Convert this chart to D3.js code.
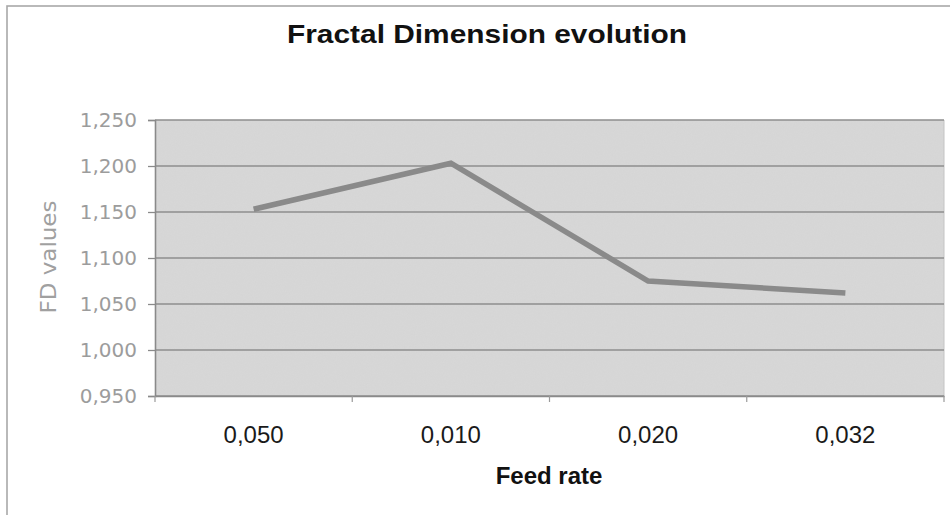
<!DOCTYPE html>
<html><head><meta charset="utf-8">
<script src="https://cdn.jsdelivr.net/npm/d3@7"></script>
<style>html,body{margin:0;padding:0;background:#fff;}svg{display:block;}</style>
</head><body>
<svg id="chart" width="950" height="515"></svg>
<script>
const categories = ["0,050", "0,010", "0,020", "0,032"];
const fdValues = [1.153, 1.203, 1.075, 1.062];
const yTicks = [0.95, 1.0, 1.05, 1.1, 1.15, 1.2, 1.25];
const title = "Fractal Dimension evolution";
const xTitle = "Feed rate";
const yTitle = "FD values";

const svg = d3.select("#chart");
const W = 950, H = 515;
const m = {left: 155, right: 6, top: 120, bottom: 119};
const pw = W - m.left - m.right, ph = H - m.top - m.bottom;

// outer frame
svg.append("rect").attr("x", 7).attr("y", 6).attr("width", W + 10).attr("height", H + 10)
  .attr("fill", "#fff").attr("stroke", "#a8a8a8").attr("stroke-width", 1.6);

// noise filter for scanned look
const defs = svg.append("defs");
const f = defs.append("filter").attr("id", "noise");
f.append("feTurbulence").attr("type", "fractalNoise").attr("baseFrequency", 0.9).attr("numOctaves", 1).attr("result", "t");
f.append("feColorMatrix").attr("type", "matrix")
  .attr("values", "0 0 0 0 0.5  0 0 0 0 0.5  0 0 0 0 0.5  0 0 0 0.12 0");
f.append("feComposite").attr("in2", "SourceGraphic").attr("operator", "in");

const x = d3.scaleBand().domain(categories).range([m.left, m.left + pw]);
const y = d3.scaleLinear().domain([0.95, 1.25]).range([m.top + ph, m.top]);

const fmt = v => d3.format(".3f")(v).replace(".", ",");

// plot background
svg.append("rect").attr("x", m.left).attr("y", m.top).attr("width", pw).attr("height", ph)
  .attr("fill", "#d8d8d8");
svg.append("rect").attr("x", m.left).attr("y", m.top).attr("width", pw).attr("height", ph)
  .attr("fill", "#d8d8d8").attr("filter", "url(#noise)");
svg.append("line").attr("x1", m.left + pw).attr("x2", m.left + pw).attr("y1", m.top).attr("y2", m.top + ph)
  .attr("stroke", "#c4c4c4").attr("stroke-width", 1);

// gridlines
svg.append("g").selectAll("line").data(yTicks).join("line")
  .attr("x1", m.left).attr("x2", m.left + pw)
  .attr("y1", d => y(d)).attr("y2", d => y(d))
  .attr("stroke", "#8e8e8e").attr("stroke-width", 1.5);

// y axis
const ya = svg.append("g").attr("transform", `translate(${m.left},0)`)
  .call(d3.axisLeft(y).tickValues(yTicks).tickFormat(fmt).tickSize(7).tickPadding(11));
ya.select(".domain").attr("stroke", "#8a8a8a").attr("stroke-width", 1.6);
ya.selectAll(".tick line").attr("stroke", "#8a8a8a").attr("stroke-width", 1.3);
ya.selectAll(".tick text").attr("font-family", "DejaVu Sans, sans-serif").attr("font-size", 20)
  .attr("fill", "#9c9c9c");

// x axis
const xa = svg.append("g").attr("transform", `translate(0,${m.top + ph})`)
  .call(d3.axisBottom(x).tickSize(0).tickPadding(30));
xa.select(".domain").attr("stroke", "#8a8a8a").attr("stroke-width", 1.6);
xa.selectAll(".tick text").attr("font-family", "Liberation Sans, Arial, sans-serif").attr("font-size", 24)
  .attr("fill", "#1a1a1a");
// boundary ticks
const bounds = categories.map(c => x(c)).concat([x(categories[categories.length - 1]) + x.bandwidth()]);
svg.append("g").selectAll("line").data(bounds).join("line")
  .attr("x1", d => d).attr("x2", d => d).attr("y1", m.top + ph).attr("y2", m.top + ph + 6)
  .attr("stroke", "#9a9a9a").attr("stroke-width", 1.2);

// line
const line = d3.line().x((d, i) => x(categories[i]) + x.bandwidth() / 2).y(d => y(d));
svg.append("path").datum(fdValues).attr("d", line)
  .attr("fill", "none").attr("stroke", "#8a8a8a").attr("stroke-width", 5.5)
  .attr("stroke-linejoin", "miter");

// titles
svg.append("text").attr("x", 487).attr("y", 43).attr("text-anchor", "middle")
  .attr("font-family", "Liberation Sans, Arial, sans-serif").attr("font-weight", "bold")
  .attr("font-size", 26).attr("textLength", 400).attr("lengthAdjust", "spacingAndGlyphs")
  .attr("fill", "#111").text(title);
svg.append("text").attr("x", 549).attr("y", 484).attr("text-anchor", "middle")
  .attr("font-family", "Liberation Sans, Arial, sans-serif").attr("font-weight", "bold")
  .attr("font-size", 24).attr("fill", "#111").text(xTitle);
svg.append("text").attr("transform", "translate(56,257) rotate(-90)").attr("text-anchor", "middle")
  .attr("font-family", "DejaVu Sans, sans-serif").attr("font-size", 21)
  .attr("textLength", 113).attr("lengthAdjust", "spacingAndGlyphs")
  .attr("fill", "#a0a0a0").text(yTitle);
</script>
</body></html>
